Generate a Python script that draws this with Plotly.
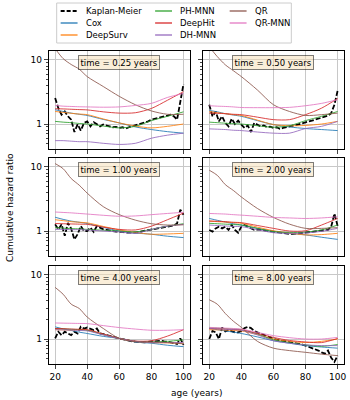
import plotly.graph_objects as go
from plotly.subplots import make_subplots

# ages at which the smooth model curves were read
AGES = [20, 25, 30, 35, 40, 50, 60, 70, 80, 90, 100]
KM_AGES = list(range(20, 101, 2))
TIMES = ['0.25', '0.50', '1.00', '2.00', '4.00', '8.00']

# one list per panel (time = 0.25, 0.5, 1, 2, 4, 8 years)
KAPLAN_MEIER = [
    [2.54, 1.77, 1.4, 1.57, 1.32, 1.17, 0.75, 0.99, 0.79, 1.04, 1.1, 0.92, 1.07, 0.98, 0.92, 0.98, 0.94, 0.92, 0.89, 0.9,
     0.87, 0.89, 0.85, 0.89, 0.92, 0.94, 0.98, 1.01, 1.06, 1.1, 1.17, 1.2, 1.24, 1.27, 1.33, 1.35, 1.4, 1.32, 1.17, 2.25, 4.2],
    [2.0, 1.32, 1.57, 1.1, 1.32, 1.04, 0.92, 1.21, 1.0, 1.13, 0.98, 0.87, 0.95, 0.75, 1.04, 0.98, 0.92, 0.95, 0.89, 0.91,
     0.87, 0.89, 0.84, 0.87, 0.9, 0.92, 0.94, 0.96, 1.0, 1.02, 1.07, 1.1, 1.13, 1.17, 1.21, 1.27, 1.3, 1.35, 1.48, 2.0, 3.3],
    [1.27, 1.06, 1.27, 0.84, 1.34, 1.09, 0.74, 0.89, 1.19, 1.0, 1.0, 1.13, 0.97, 1.19, 1.13, 1.06, 1.04, 1.01, 1.0, 0.98,
     0.98, 0.97, 0.94, 0.94, 0.93, 0.94, 0.95, 0.99, 1.01, 1.04, 1.06, 1.09, 1.11, 1.13, 1.15, 1.19, 1.19, 1.22, 1.31, 2.15, 1.8],
    [1.04, 0.98, 1.1, 1.17, 1.1, 1.17, 1.04, 1.24, 1.04, 0.94, 1.17, 1.24, 1.17, 1.1, 1.04, 1.06, 1.04, 1.02, 1.01, 0.99,
     0.98, 0.97, 0.94, 0.92, 0.91, 0.9, 0.9, 0.91, 0.92, 0.93, 0.94, 0.95, 0.97, 0.98, 0.99, 1.01, 1.02, 1.04, 1.17, 1.87, 1.2],
    [1.02, 1.3, 1.15, 1.3, 1.22, 1.15, 1.3, 1.22, 1.55, 1.46, 1.51, 1.46, 1.38, 1.46, 1.22, 1.19, 1.15, 1.13, 1.09, 1.05,
     1.02, 1.0, 0.97, 0.94, 0.92, 0.91, 0.9, 0.89, 0.89, 0.9, 0.91, 0.92, 0.93, 0.94, 0.92, 0.91, 0.89, 0.86, 0.84, 1.02, 0.81],
    [1.0, 1.34, 1.27, 1.0, 1.51, 1.31, 1.38, 1.31, 1.27, 1.27, 1.34, 1.48, 1.55, 1.48, 1.34, 1.27, 1.22, 1.17, 1.11, 1.06,
     1.0, 0.98, 0.95, 0.93, 0.92, 0.91, 0.89, 0.87, 0.85, 0.82, 0.79, 0.76, 0.73, 0.69, 0.66, 0.62, 0.59, 0.66, 0.51, 0.44, 0.55],
]
COX = [
    [1.67, 1.57, 1.48, 1.42, 1.36, 1.18, 1.04, 0.9, 0.82, 0.76, 0.72],
    [1.63, 1.55, 1.45, 1.38, 1.32, 1.13, 0.98, 0.9, 0.85, 0.82, 0.79],
    [1.64, 1.52, 1.43, 1.37, 1.31, 1.14, 1.0, 0.93, 0.89, 0.83, 0.79],
    [1.57, 1.47, 1.38, 1.3, 1.24, 1.1, 0.98, 0.92, 0.87, 0.8, 0.74],
    [1.55, 1.44, 1.36, 1.28, 1.22, 1.1, 1.02, 0.9, 0.86, 0.8, 0.76],
    [1.46, 1.4, 1.34, 1.28, 1.22, 1.08, 0.94, 0.86, 0.79, 0.75, 0.72],
]
DEEPSURV = [
    [1.57, 1.52, 1.47, 1.43, 1.4, 1.2, 1.04, 0.93, 0.87, 0.92, 1.0],
    [1.57, 1.5, 1.45, 1.4, 1.36, 1.15, 0.98, 0.94, 0.95, 1.0, 1.1],
    [1.5, 1.45, 1.4, 1.37, 1.34, 1.18, 1.04, 0.95, 0.89, 0.9, 0.92],
    [1.43, 1.4, 1.38, 1.35, 1.32, 1.15, 1.01, 0.93, 0.87, 0.88, 0.92],
    [1.4, 1.39, 1.38, 1.38, 1.37, 1.18, 1.02, 0.92, 0.88, 0.87, 0.86],
    [1.4, 1.39, 1.38, 1.36, 1.34, 1.17, 1.0, 0.92, 0.88, 0.92, 1.0],
]
PH_MNN = [
    [1.1, 1.07, 1.05, 1.02, 1.0, 0.93, 0.87, 0.92, 1.13, 1.32, 1.55],
    [1.07, 1.05, 1.03, 1.01, 1.0, 0.94, 0.89, 0.94, 1.13, 1.32, 1.57],
    [1.13, 1.11, 1.09, 1.08, 1.06, 1.03, 1.0, 0.97, 1.06, 1.19, 1.3],
    [1.32, 1.3, 1.28, 1.26, 1.24, 1.1, 0.98, 0.95, 0.96, 1.04, 1.24],
    [1.46, 1.44, 1.42, 1.4, 1.37, 1.18, 1.02, 0.92, 0.9, 0.92, 0.97],
    [1.5, 1.48, 1.45, 1.43, 1.4, 1.2, 0.97, 0.88, 0.81, 0.77, 0.82],
]
DEEPHIT = [
    [1.73, 1.72, 1.7, 1.68, 1.66, 1.55, 1.48, 1.5, 1.75, 2.35, 3.2],
    [1.48, 1.47, 1.45, 1.42, 1.4, 1.28, 1.17, 1.17, 1.4, 1.77, 2.5],
    [1.31, 1.3, 1.29, 1.28, 1.27, 1.15, 1.06, 1.04, 1.19, 1.5, 1.9],
    [1.43, 1.42, 1.4, 1.37, 1.35, 1.22, 1.1, 1.0, 1.01, 1.24, 1.57],
    [1.46, 1.45, 1.43, 1.42, 1.4, 1.2, 1.02, 0.93, 0.94, 1.11, 1.4],
    [1.46, 1.45, 1.43, 1.41, 1.4, 1.22, 1.06, 0.95, 0.9, 0.88, 1.02],
]
DH_MNN = [
    [0.55, 0.55, 0.54, 0.53, 0.53, 0.5, 0.48, 0.5, 0.6, 0.67, 0.72],
    [0.84, 0.83, 0.82, 0.8, 0.79, 0.75, 0.72, 0.72, 0.85, 0.92, 1.1],
    [1.06, 1.06, 1.05, 1.05, 1.04, 1.0, 0.97, 0.92, 1.06, 1.19, 1.27],
    [1.24, 1.22, 1.2, 1.18, 1.17, 1.05, 0.94, 0.92, 0.93, 0.99, 1.1],
    [1.4, 1.39, 1.38, 1.36, 1.34, 1.16, 1.02, 0.92, 0.88, 0.88, 0.88],
    [1.46, 1.44, 1.42, 1.4, 1.37, 1.16, 0.94, 0.86, 0.81, 0.79, 0.79],
]
QR = [
    [15.0, 10.5, 8.5, 7.2, 5.5, 3.85, 2.7, 2.0, 1.6, 1.42, 1.42],
    [16.0, 11.3, 8.4, 6.8, 5.5, 3.4, 2.0, 1.57, 1.36, 1.4, 1.48],
    [11.3, 9.4, 6.6, 5.2, 3.9, 2.4, 1.8, 1.48, 1.3, 1.24, 1.25],
    [8.9, 7.4, 5.3, 4.3, 3.4, 2.25, 1.63, 1.28, 1.1, 1.1, 1.13],
    [6.4, 5.0, 3.5, 3.0, 2.2, 1.46, 1.02, 0.91, 0.9, 0.88, 0.84],
    [4.1, 3.5, 2.5, 1.9, 1.52, 0.92, 0.72, 0.66, 0.62, 0.58, 0.55],
]
QR_MNN = [
    [1.95, 1.9, 1.88, 1.86, 1.85, 1.83, 1.85, 1.95, 2.1, 2.6, 3.0],
    [1.93, 1.9, 1.88, 1.85, 1.81, 1.8, 1.8, 1.82, 1.93, 2.1, 2.4],
    [1.98, 1.95, 1.92, 1.88, 1.84, 1.76, 1.7, 1.72, 1.8, 1.88, 1.96],
    [1.88, 1.86, 1.84, 1.8, 1.77, 1.7, 1.63, 1.6, 1.57, 1.6, 1.67],
    [1.78, 1.77, 1.76, 1.75, 1.74, 1.62, 1.51, 1.43, 1.37, 1.37, 1.4],
    [1.52, 1.5, 1.48, 1.46, 1.43, 1.27, 1.13, 1.05, 1.0, 1.0, 1.06],
]

KM_STYLE = ('Kaplan-Meier', 'black', '4px,2px')
MODELS = [
    ('Cox', COX, 'rgba(31,119,180,0.85)'),
    ('DeepSurv', DEEPSURV, 'rgba(255,127,14,0.85)'),
    ('PH-MNN', PH_MNN, 'rgba(44,160,44,0.85)'),
    ('DeepHit', DEEPHIT, 'rgba(214,39,40,0.85)'),
    ('DH-MNN', DH_MNN, 'rgba(148,103,189,0.85)'),
    ('QR', QR, 'rgba(140,86,75,0.85)'),
    ('QR-MNN', QR_MNN, 'rgba(227,119,194,0.85)'),
]

FONT = 'DejaVu Sans'
W, H = 350, 400
X_DOMAINS = [[0.14, 0.5457], [0.5829, 0.9886]]
Y_DOMAINS = [[0.6275, 0.8725], [0.36, 0.605], [0.09, 0.335]]
MINOR_Y = [0.5, 0.6, 0.7, 0.8, 0.9, 2, 3, 4, 5, 6, 7, 8, 9]

fig = make_subplots(rows=3, cols=2)

for i, t in enumerate(TIMES):
    r, c = i // 2 + 1, i % 2 + 1
    fig.add_trace(go.Scatter(
        x=KM_AGES, y=KAPLAN_MEIER[i], mode='lines', name='Kaplan-Meier',
        line=dict(color='black', width=1.8, dash='5px,2px'), showlegend=False), row=r, col=c)
    for name, data, color in MODELS:
        fig.add_trace(go.Scatter(
            x=AGES, y=data[i], mode='lines', name=name,
            line=dict(color=color, width=1, shape='spline', smoothing=0.8),
            showlegend=False), row=r, col=c)

    sfx = '' if i == 0 else str(i + 1)
    fig.add_annotation(
        text=f'time = {t} years', x=0.5, y=0.96, xref=f'x{sfx} domain', yref=f'y{sfx} domain',
        xanchor='center', yanchor='top', showarrow=False,
        font=dict(family=FONT, size=8.5, color='black'),
        bgcolor='rgba(245,222,179,0.5)', bordercolor='rgba(0,0,0,0.5)', borderwidth=1, borderpad=1.5)

for i in range(6):
    r, c = i // 2, i % 2
    sfx = '' if i == 0 else str(i + 1)
    fig.layout['xaxis' + sfx].update(
        domain=X_DOMAINS[c], range=[16, 104], tickvals=[20, 40, 60, 80, 100],
        showticklabels=(r == 2), ticks='outside', ticklen=4, tickwidth=1,
        showline=True, linecolor='black', linewidth=1, mirror=True,
        showgrid=True, gridcolor='#c8c8c8', gridwidth=1, zeroline=False,
        tickfont=dict(family=FONT, size=9, color='black'))
    fig.layout['yaxis' + sfx].update(
        domain=Y_DOMAINS[r], type='log', range=[-0.39, 1.14], tickvals=[1, 10], ticktext=['1', '10'],
        showticklabels=(c == 0), ticks='outside', ticklen=4, tickwidth=1,
        minor=dict(tickvals=MINOR_Y, ticks='outside', ticklen=2, tickwidth=0.8, showgrid=False),
        showline=True, linecolor='black', linewidth=1, mirror=True,
        showgrid=True, gridcolor='#c8c8c8', gridwidth=1, zeroline=False,
        tickfont=dict(family=FONT, size=9, color='black'))

# legend: three columns, drawn in pixel layout (column-major like matplotlib ncol=3)
entries = [KM_STYLE] + [(name, color, 'solid') for name, _, color in MODELS]
col_x = [61, 156, 231]
row_y = [11, 23, 35]
shapes = [dict(type='rect', xref='paper', yref='paper', x0=57 / W, x1=293 / W,
               y0=1 - 43 / H, y1=1 - 3 / H, line=dict(color='#cccccc', width=1),
               fillcolor='rgba(255,255,255,0.8)', layer='above')]
for k, (name, color, dash) in enumerate(entries):
    cx, ry = col_x[k // 3], row_y[k % 3]
    shapes.append(dict(type='line', xref='paper', yref='paper', x0=cx / W, x1=(cx + 17) / W,
                       y0=1 - ry / H, y1=1 - ry / H, layer='above',
                       line=dict(color=color, width=1.8 if name == 'Kaplan-Meier' else 1.5, dash=dash)))
    fig.add_annotation(text=name, x=(cx + 23) / W, y=1 - ry / H, xref='paper', yref='paper',
                       xanchor='left', yanchor='middle', showarrow=False,
                       font=dict(family=FONT, size=8.5, color='black'))

fig.update_layout(
    width=W, height=H,
    margin=dict(l=0, r=0, t=0, b=0),
    paper_bgcolor='white', plot_bgcolor='white',
    font=dict(family=FONT, size=9, color='black'),
    showlegend=False,
    shapes=shapes,
)

fig.add_annotation(text='age (years)', x=0.564, y=1 - 393 / H, xref='paper', yref='paper',
                   xanchor='center', yanchor='middle',
                   showarrow=False, font=dict(family=FONT, size=9, color='black'))
fig.add_annotation(text='Cumulative hazard ratio', x=10 / W, y=1 - 207 / H, xref='paper', yref='paper',
                   xanchor='center', yanchor='middle',
                   textangle=-90, showarrow=False, font=dict(family=FONT, size=9, color='black'))

# the page body has a default 8px margin; drop it so the figure fills the window
fig.write_html('out.html', config={'displayModeBar': False},
               post_script="document.body.style.margin = '0px';")
